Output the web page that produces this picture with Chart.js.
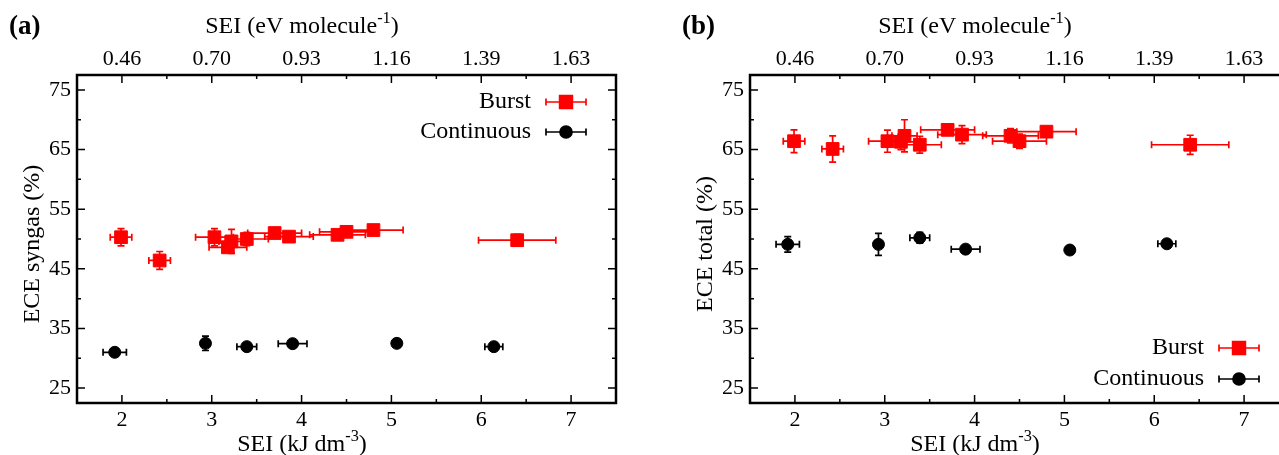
<!DOCTYPE html>
<html>
<head>
<meta charset="utf-8">
<script src="https://cdn.jsdelivr.net/npm/chart.js@4"></script>
<style>
  html, body { margin: 0; padding: 0; background: #fff; overflow: hidden; }
  #wrap { position: relative; width: 1279px; height: 455px; overflow: hidden; }
  canvas { position: absolute; top: 0; }
  #ca { left: 0; }
  #cb { left: 640px; }
</style>
</head>
<body>
<div id="wrap">
  <canvas id="ca" width="640" height="455"></canvas>
  <canvas id="cb" width="680" height="455"></canvas>
</div>
<script>
// SEI (kJ dm-3) of each run, with its spread
const burstSEI = [1.99, 2.42, 3.03, 3.18, 3.22, 3.39, 3.70, 3.86, 4.40, 4.50, 4.80, 6.40];
const burstSEIErr = [0.12, 0.12, 0.21, 0.21, 0.14, 0.24, 0.30, 0.27, 0.31, 0.30, 0.33, 0.43];
const contSEI = [1.92, 2.93, 3.39, 3.90, 5.06, 6.14];
const contSEIErr = [0.13, 0.03, 0.11, 0.16, 0.03, 0.10];

// (a) ECE syngas (%)
const burstSyngas = [50.3, 46.4, 50.3, 48.6, 49.6, 50.0, 51.0, 50.4, 50.7, 51.2, 51.5, 49.8];
const burstSyngasErr = [1.45, 1.5, 1.45, 0.8, 2.0, 1.1, 0.8, 0.8, 0.8, 0.8, 0.8, 1.0];
const contSyngas = [31.0, 32.5, 31.95, 32.45, 32.5, 31.95];
const contSyngasErr = [0.6, 1.2, 0.6, 0.6, 0.6, 0.6];

// (b) ECE total (%)
const burstTotal = [66.4, 65.1, 66.4, 66.3, 67.3, 65.8, 68.3, 67.5, 67.3, 66.4, 68.0, 65.8];
const burstTotalErr = [1.9, 2.2, 1.85, 1.3, 2.7, 1.4, 0.8, 1.5, 1.2, 1.2, 0.8, 1.6];
const contTotal = [49.1, 49.1, 50.2, 48.3, 48.15, 49.2];
const contTotalErr = [1.3, 1.85, 0.9, 0.6, 0.6, 0.6];

const seiTicks = [2, 3, 4, 5, 6, 7];
const seiMolLabels = ['0.46', '0.70', '0.93', '1.16', '1.39', '1.63'];
const eceTicks = [25, 35, 45, 55, 65, 75];

const FONT = 'Liberation Serif';
const RED = '#ff0000';

function points(xs, xe, ys, ye) {
  return xs.map((x, i) => ({ x, y: ys[i], xErr: xe[i], yErr: ye[i] }));
}

const errorBars = {
  id: 'errorBars',
  beforeDatasetsDraw(chart) {
    const { ctx } = chart;
    const xs = chart.scales.x;
    const ys = chart.scales.y;
    ctx.save();
    ctx.lineWidth = 1.7;
    chart.data.datasets.forEach((ds) => {
      ctx.strokeStyle = ds.borderColor;
      ds.data.forEach((d) => {
        const px = xs.getPixelForValue(d.x);
        const py = ys.getPixelForValue(d.y);
        const x0 = xs.getPixelForValue(d.x - d.xErr);
        const x1 = xs.getPixelForValue(d.x + d.xErr);
        const y0 = ys.getPixelForValue(d.y - d.yErr);
        const y1 = ys.getPixelForValue(d.y + d.yErr);
        const c = 3.5;
        ctx.beginPath();
        ctx.moveTo(x0, py); ctx.lineTo(x1, py);
        ctx.moveTo(x0, py - c); ctx.lineTo(x0, py + c);
        ctx.moveTo(x1, py - c); ctx.lineTo(x1, py + c);
        ctx.moveTo(px, y0); ctx.lineTo(px, y1);
        ctx.moveTo(px - c, y0); ctx.lineTo(px + c, y0);
        ctx.moveTo(px - c, y1); ctx.lineTo(px + c, y1);
        ctx.stroke();
      });
    });
    ctx.restore();
  },
};

function supText(ctx, parts, cx, baseline, size) {
  const widths = parts.map((p) => {
    ctx.font = `${p.sup ? size * 0.68 : size}px "${FONT}"`;
    return ctx.measureText(p.t).width;
  });
  let x = cx - widths.reduce((a, b) => a + b, 0) / 2;
  parts.forEach((p, i) => {
    ctx.font = `${p.sup ? size * 0.68 : size}px "${FONT}"`;
    ctx.fillText(p.t, x, p.sup ? baseline - size * 0.42 : baseline);
    x += widths[i];
  });
}

const frameAndText = {
  id: 'frameAndText',
  afterDraw(chart, args, opts) {
    const { ctx, chartArea: a } = chart;
    const xs = chart.scales.x;
    const ys = chart.scales.y;
    ctx.save();
    ctx.strokeStyle = '#000';
    ctx.fillStyle = '#000';

    // inward tick marks on all four sides
    ctx.lineWidth = 1.5;
    ctx.beginPath();
    const xMinor = seiTicks.slice(0, -1).map((v) => v + 0.5);
    const yMinor = eceTicks.slice(0, -1).map((v) => v + 5);
    [[seiTicks, 8], [xMinor, 4]].forEach(([vals, len]) => {
      vals.forEach((v) => {
        const p = xs.getPixelForValue(v);
        ctx.moveTo(p, a.bottom); ctx.lineTo(p, a.bottom - len);
        ctx.moveTo(p, a.top); ctx.lineTo(p, a.top + len);
      });
    });
    [[eceTicks, 8], [yMinor, 4]].forEach(([vals, len]) => {
      vals.forEach((v) => {
        const p = ys.getPixelForValue(v);
        ctx.moveTo(a.left, p); ctx.lineTo(a.left + len, p);
        ctx.moveTo(a.right, p); ctx.lineTo(a.right - len, p);
      });
    });
    ctx.stroke();
    ctx.lineWidth = 2.5;
    ctx.strokeRect(a.left, a.top, a.right - a.left, a.bottom - a.top);

    // panel letter and axis titles
    ctx.textAlign = 'left';
    ctx.textBaseline = 'alphabetic';
    ctx.font = `bold 27px "${FONT}"`;
    ctx.fillText(opts.letter, opts.letterX, 34);
    const cx = a.left + 225;
    supText(ctx, [{ t: 'SEI (eV molecule' }, { t: '-1', sup: true }, { t: ')' }], cx, 33, 24);
    supText(ctx, [{ t: 'SEI (kJ dm' }, { t: '-3', sup: true }, { t: ')' }], cx, 451, 24);
    ctx.save();
    ctx.translate(a.left - 44, 244);
    ctx.rotate(-Math.PI / 2);
    ctx.textAlign = 'center';
    ctx.textBaseline = 'middle';
    ctx.font = `24px "${FONT}"`;
    ctx.fillText(opts.yTitle, 0, 0);
    ctx.restore();

    // key
    const rows = opts.keyAtTop ? [a.top + 27, a.top + 57] : [a.bottom - 55, a.bottom - 24];
    chart.data.datasets.forEach((ds, i) => {
      const y = rows[i];
      ctx.textAlign = 'right';
      ctx.textBaseline = 'middle';
      ctx.font = `24px "${FONT}"`;
      ctx.fillText(ds.label, a.right - 85, y);
      const l = a.right - 70;
      const r = a.right - 30;
      ctx.strokeStyle = ds.borderColor;
      ctx.lineWidth = 1.7;
      ctx.beginPath();
      ctx.moveTo(l, y); ctx.lineTo(r, y);
      ctx.moveTo(l, y - 3.5); ctx.lineTo(l, y + 3.5);
      ctx.moveTo(r, y - 3.5); ctx.lineTo(r, y + 3.5);
      ctx.stroke();
      ctx.fillStyle = ds.backgroundColor;
      Chart.helpers.drawPoint(ctx, {
        pointStyle: ds.pointStyle, radius: ds.pointRadius, borderWidth: 1, rotation: 0,
      }, a.right - 50, y);
      ctx.fill();
      ctx.fillStyle = '#000';
      ctx.strokeStyle = '#000';
    });
    ctx.restore();
  },
};

function tickFont() {
  return { family: FONT, size: 22 };
}

function makePanel(canvas, o) {
  return new Chart(canvas, {
    type: 'scatter',
    data: {
      datasets: [{
        label: 'Burst',
        data: points(burstSEI, burstSEIErr, o.burst, o.burstErr),
        pointStyle: 'rect',
        pointRadius: 9,
        borderWidth: 1,
        borderColor: RED,
        backgroundColor: RED,
      }, {
        label: 'Continuous',
        data: points(contSEI, contSEIErr, o.cont, o.contErr),
        pointStyle: 'circle',
        pointRadius: 6,
        borderWidth: 1,
        borderColor: '#000',
        backgroundColor: '#000',
      }],
    },
    options: {
      responsive: false,
      animation: false,
      events: [],
      devicePixelRatio: 1,
      layout: { padding: { left: 0, right: o.rightPad, top: 0, bottom: 0 } },
      plugins: {
        legend: { display: false },
        tooltip: { enabled: false },
        frameAndText: { letter: o.letter, letterX: o.letterX, yTitle: o.yTitle, keyAtTop: o.keyAtTop },
      },
      scales: {
        x: {
          type: 'linear',
          position: 'bottom',
          min: 1.5,
          max: 7.5,
          afterBuildTicks: (s) => { s.ticks = seiTicks.map((v) => ({ value: v })); },
          afterFit: (s) => { s.height = 52; },
          grid: { display: false, drawTicks: false },
          border: { display: false },
          ticks: { color: '#000', font: tickFont(), padding: 4, maxRotation: 0, autoSkip: false },
        },
        x2: {
          type: 'linear',
          position: 'top',
          min: 1.5,
          max: 7.5,
          afterBuildTicks: (s) => { s.ticks = seiTicks.map((v) => ({ value: v })); },
          afterFit: (s) => { s.height = 75; },
          grid: { display: false, drawTicks: false },
          border: { display: false },
          ticks: {
            color: '#000',
            font: tickFont(),
            padding: 3,
            maxRotation: 0,
            autoSkip: false,
            callback: (v) => seiMolLabels[seiTicks.indexOf(v)],
          },
        },
        y: {
          min: 22.5,
          max: 77.5,
          afterBuildTicks: (s) => { s.ticks = eceTicks.map((v) => ({ value: v })); },
          afterFit: (s) => { s.width = o.yWidth; },
          grid: { display: false, drawTicks: false },
          border: { display: false },
          ticks: { color: '#000', font: tickFont(), padding: 6 },
        },
      },
    },
    plugins: [errorBars, frameAndText],
  });
}

makePanel(document.getElementById('ca'), {
  burst: burstSyngas, burstErr: burstSyngasErr, cont: contSyngas, contErr: contSyngasErr,
  letter: '(a)', letterX: 9, yTitle: 'ECE syngas (%)', keyAtTop: true, yWidth: 77, rightPad: 24,
});
makePanel(document.getElementById('cb'), {
  burst: burstTotal, burstErr: burstTotalErr, cont: contTotal, contErr: contTotalErr,
  letter: '(b)', letterX: 42, yTitle: 'ECE total (%)', keyAtTop: false, yWidth: 110, rightPad: 31,
});
</script>
</body>
</html>
